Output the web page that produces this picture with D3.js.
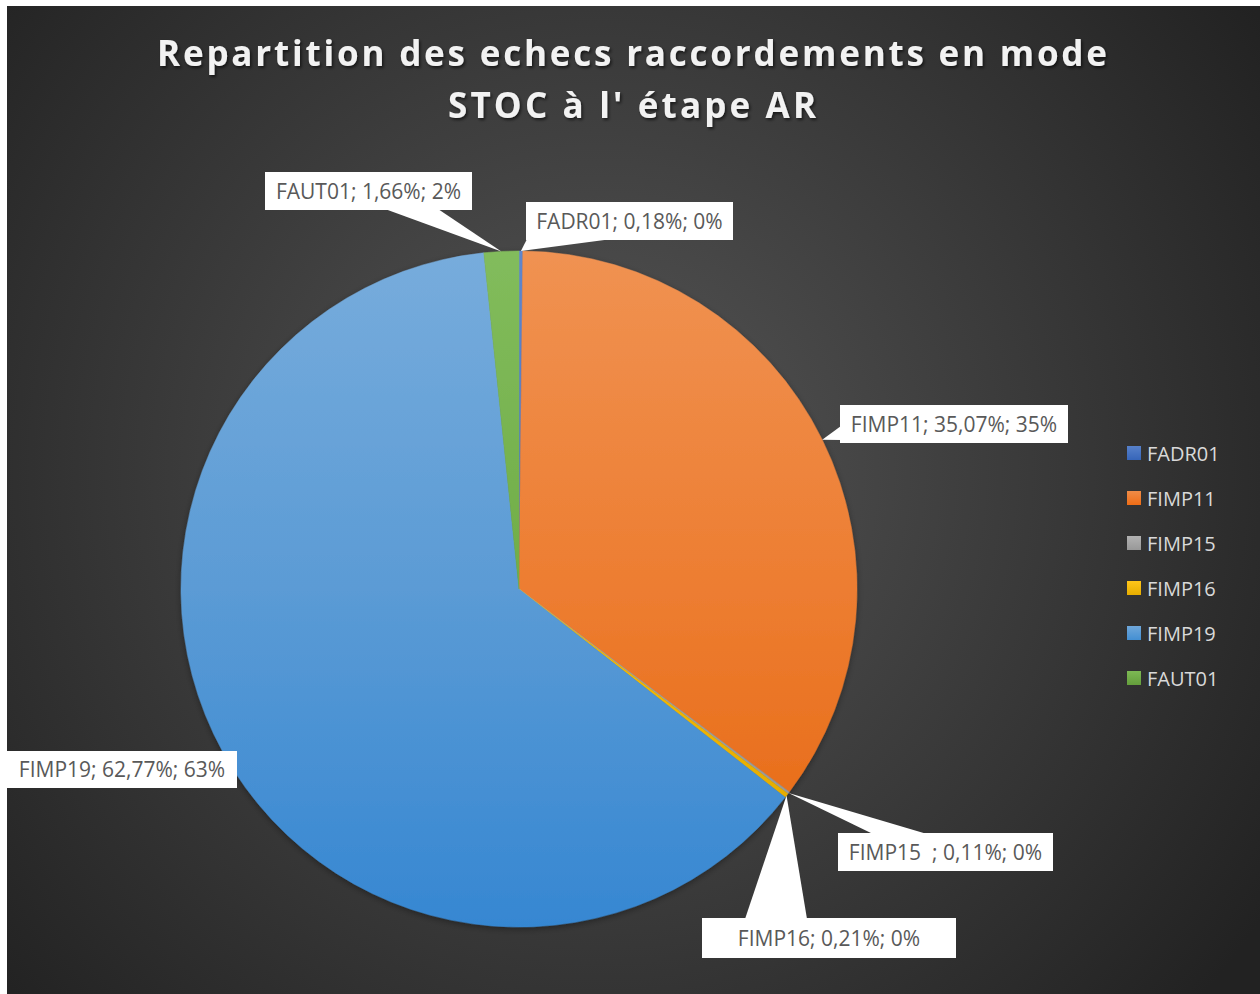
<!DOCTYPE html>
<html><head><meta charset="utf-8">
<script src="https://cdn.jsdelivr.net/npm/d3@7"></script>
<style>
html,body{margin:0;padding:0;background:#fff;}
svg{display:block;}
text{font-family:"Open Sans",sans-serif;}
</style></head>
<body>
<svg id="chart" width="1260" height="994"></svg>
<script>
// ---- data ----
const categories = ["FADR01", "FIMP11", "FIMP15  ", "FIMP16", "FIMP19", "FAUT01"];
const percentValues = [0.18, 35.07, 0.11, 0.21, 62.77, 1.66];
const roundedLabels = ["0%", "35%", "0%", "0%", "63%", "2%"];
const sliceColors = ["#4472C4", "#ED7D31", "#A5A5A5", "#FFC000", "#5B9BD5", "#70AD47"];
const titleLines = ["Repartition des echecs raccordements en mode", "STOC à l' étape AR"];

// ---- layout ----
const W = 1260, H = 994;
const cx = 519, cy = 589, R = 338;
// callout boxes: x,y,w,h and wedge base (side, a, b)
const callouts = [
  {x:526, y:202, w:207, h:38, side:"bottom", a:527, b:612},
  {x:840, y:405, w:228, h:38, side:"left", a:426, b:440},
  {x:838, y:833, w:215, h:38, side:"top", a:873, b:927},
  {x:702, y:918, w:254, h:40, side:"top", a:745, b:807},
  {x:7,   y:751, w:230, h:37, side:"top", a:215, b:230},
  {x:265, y:172, w:207, h:38, side:"bottom", a:385, b:438}
];

const svg = d3.select("#chart");
const defs = svg.append("defs");

const bg = defs.append("radialGradient").attr("id","bg")
  .attr("gradientUnits","userSpaceOnUse").attr("cx",600).attr("cy",470).attr("r",800);
bg.append("stop").attr("offset","0").attr("stop-color","#565656");
bg.append("stop").attr("offset","1").attr("stop-color","#222222");

const sh = defs.append("filter").attr("id","tshadow").attr("x","-10%").attr("y","-30%").attr("width","120%").attr("height","160%");
sh.append("feDropShadow").attr("dx",1.5).attr("dy",2).attr("stdDeviation",1.5).attr("flood-color","#000").attr("flood-opacity",0.6);

const psh = defs.append("filter").attr("id","pshadow").attr("x","-10%").attr("y","-10%").attr("width","120%").attr("height","120%");
psh.append("feDropShadow").attr("dx",0).attr("dy",2).attr("stdDeviation",3).attr("flood-color","#000").attr("flood-opacity",0.35);

function shade(c, dl, ds){
  const h = d3.hsl(c);
  h.l = Math.max(0, Math.min(1, h.l + dl));
  h.s = Math.max(0, Math.min(1, h.s + ds));
  return h.formatHex();
}

sliceColors.forEach((c,i)=>{
  const g = defs.append("linearGradient").attr("id","sg"+i)
    .attr("gradientUnits","userSpaceOnUse").attr("x1",0).attr("y1",-R).attr("x2",0).attr("y2",R);
  g.append("stop").attr("offset","0").attr("stop-color", shade(c, 0.07, 0));
  g.append("stop").attr("offset","0.5").attr("stop-color", c);
  g.append("stop").attr("offset","1").attr("stop-color", shade(c, -0.08, 0.04));
  const lgr = defs.append("linearGradient").attr("id","lgg"+i).attr("x1",0).attr("y1",0).attr("x2",0).attr("y2",1);
  lgr.append("stop").attr("offset","0").attr("stop-color", shade(c, 0.05, 0));
  lgr.append("stop").attr("offset","1").attr("stop-color", shade(c, -0.05, 0.03));
});

svg.append("rect").attr("x",7).attr("y",6).attr("width",W-7).attr("height",H-6).attr("fill","url(#bg)");

// title
const tWidths = [950, 368];
svg.append("g").selectAll("text").data(titleLines).join("text")
  .attr("x", 632).attr("y",(d,i)=>66+i*52)
  .attr("text-anchor","middle")
  .attr("font-size",35).attr("font-weight",700).attr("fill","#f2f2f2")
  .attr("textLength",(d,i)=>tWidths[i]).attr("lengthAdjust","spacing")
  .attr("filter","url(#tshadow)")
  .text(d=>d);

// pie
const data = categories.map((c,i)=>({cat:c, value:percentValues[i], idx:i}));
const pie = d3.pie().value(d=>d.value).sort(null);
const arcs = pie(data);
const arc = d3.arc().innerRadius(0).outerRadius(R);
const pg = svg.append("g").attr("transform",`translate(${cx},${cy})`).attr("filter","url(#pshadow)");
pg.selectAll("path").data(arcs).join("path")
  .attr("d",arc)
  .attr("fill",d=>`url(#sg${d.index})`)
  .attr("stroke",d=>`url(#sg${d.index})`).attr("stroke-width",0.5);

// callouts
const fmt = v => v.toFixed(2).replace(".", ",") + "%";
const lg = svg.append("g");
arcs.forEach((d,i)=>{
  const co = callouts[i];
  const mid = (d.startAngle+d.endAngle)/2;
  const tx = cx + R*Math.sin(mid), ty = cy - R*Math.cos(mid);
  let p1, p2;
  if (co.side==="bottom"){ p1=[co.a, co.y+co.h-1]; p2=[co.b, co.y+co.h-1]; }
  else if (co.side==="top"){ p1=[co.a, co.y+1]; p2=[co.b, co.y+1]; }
  else { p1=[co.x+1, co.a]; p2=[co.x+1, co.b]; }
  lg.append("path").attr("d", d3.line()([[tx,ty],p1,p2])+"Z").attr("fill","#ffffff");
  lg.append("rect").attr("x",co.x).attr("y",co.y).attr("width",co.w).attr("height",co.h).attr("fill","#ffffff");
  lg.append("text").attr("x",co.x+co.w/2).attr("y",co.y+co.h/2+7.5)
    .attr("text-anchor","middle").attr("font-size",21).attr("fill","#595959")
    .style("white-space","pre")
    .text(`${d.data.cat}; ${fmt(d.data.value)}; ${roundedLabels[i]}`);
});

// legend
const leg = svg.append("g").attr("transform","translate(1127,446)");
const items = leg.selectAll("g").data(categories).join("g")
  .attr("transform",(d,i)=>`translate(0,${i*45})`);
items.append("rect").attr("width",14).attr("height",14).attr("fill",(d,i)=>`url(#lgg${i})`);
items.append("text").attr("x",20).attr("y",15).attr("font-size",20).attr("fill","#d9d9d9")
  .text(d=>d.trim());
</script>
</body></html>
